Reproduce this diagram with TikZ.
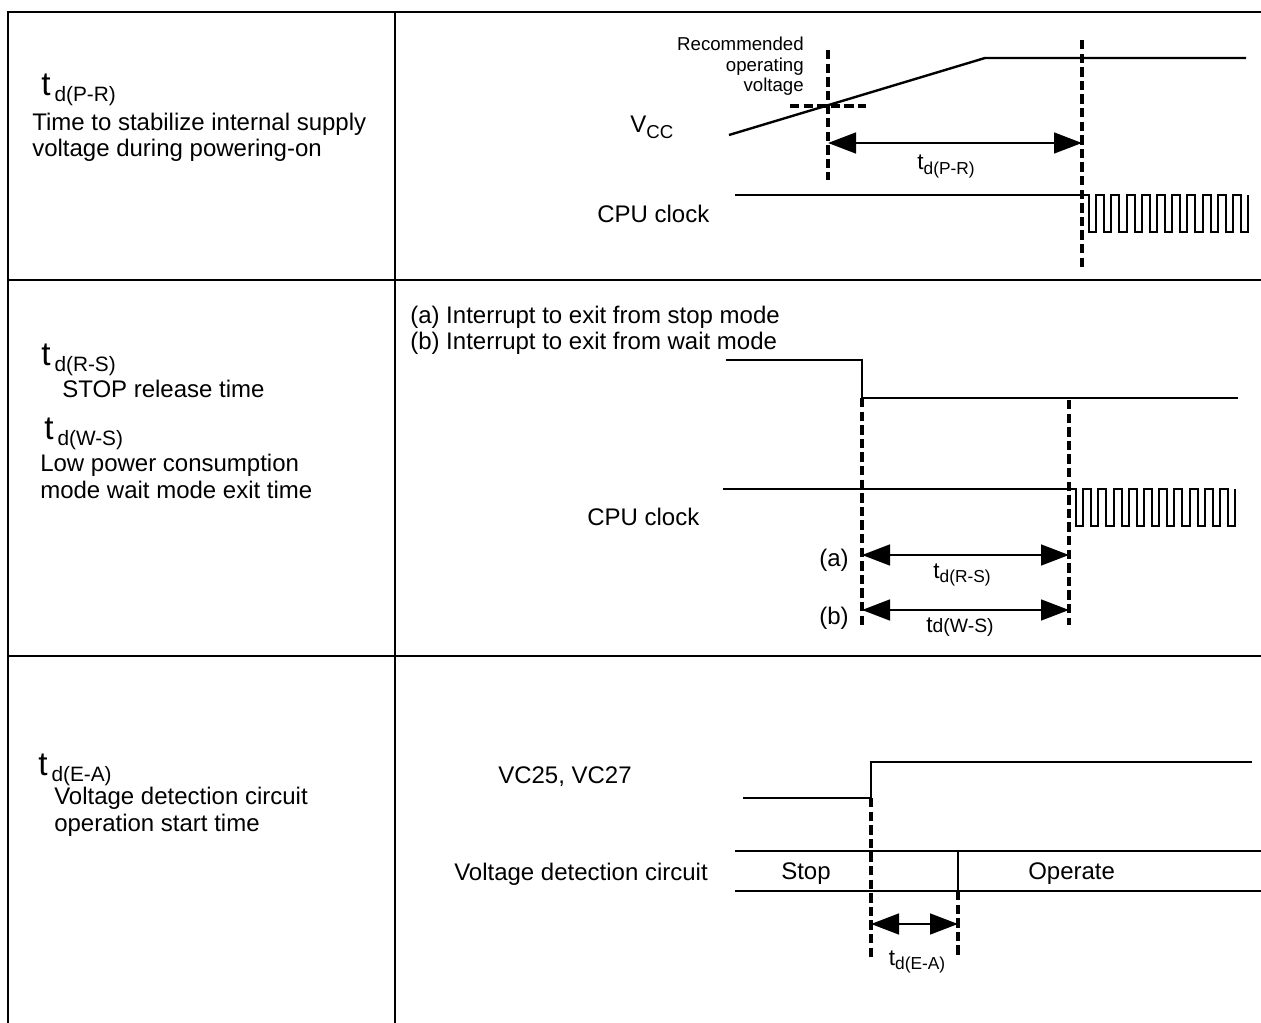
\documentclass[tikz,border=0pt]{standalone}
\usepackage{fontspec}
\setmainfont{Liberation Sans}
\usetikzlibrary{arrows.meta}
\tikzset{
	tablerule/.style={line width=1.8pt},
	sigline/.style={line width=1.8pt},
	clkline/.style={line width=1.6pt,line join=miter},
	dashline/.style={line width=2.5pt,dash pattern=on 7pt off 3.2pt},
	dimarrow/.style={line width=2pt,{Triangle[length=21pt,width=15.5pt]}-{Triangle[length=21pt,width=15.5pt]}},
	txt/.style={anchor=base west,inner sep=0pt,font=\fontsize{18}{22}\selectfont},
	mark txt/.style={anchor=base,inner sep=0pt,font=\fontsize{17}{20}\selectfont},
	small txt/.style={anchor=base east,inner sep=0pt,align=right,font=\fontsize{14}{15.4}\selectfont}
}
% big t with its index, left column
\newcommand{\bigsym}[1]{{\fontsize{25}{25}\selectfont t}\hspace{3pt}\raisebox{-4.5pt}{\fontsize{15.6}{16}\selectfont #1}}
% t with its index, at the arrows
\newcommand{\marksym}[1]{t\raisebox{-3.5pt}{\fontsize{13}{13}\selectfont #1}}
% one pulse train, 11 periods
\newcommand{\clockwave}[3]{
	\draw[clkline] (#1,#2) -- ++(7,0)
		\foreach \n in {1,...,11} { -- ++(0,#3-#2) -- ++(7.2,0) -- ++(0,#2-#3) \ifnum\n<11 -- ++(8,0)\fi };
}
\begin{document}
\begin{tikzpicture}[x=0.75pt,y=-0.75pt]
	\useasboundingbox (0,0) rectangle (1261,1023);
	% table
	\draw[tablerule] (1261,12) -- (8,12) -- (8,1023);
	\draw[tablerule] (395,12) -- (395,1023);
	\draw[tablerule] (8,280) -- (1261,280);
	\draw[tablerule] (8,656) -- (1261,656);

	% left column
	\node[txt] (symPR) at (41,96) {\bigsym{d(P-R)}};
	\node[txt] (descPRa) at (32,131) {Time to stabilize internal supply};
	\node[txt] (descPRb) at (32,157) {voltage during powering-on};
	\node[txt] (symRS) at (41,366) {\bigsym{d(R-S)}};
	\node[txt] (descRS) at (62,398) {STOP release time};
	\node[txt] (symWS) at (44,440) {\bigsym{d(W-S)}};
	\node[txt] (descWSa) at (40,472) {Low power consumption};
	\node[txt] (descWSb) at (40,499) {mode wait mode exit time};
	\node[txt] (symEA) at (38,775) {\bigsym{d(E-A)}};
	\node[txt] (descEAa) at (54,804) {Voltage detection circuit};
	\node[txt] (descEAb) at (54,831) {operation start time};

	% first row
	\node[small txt] (recom) at (804,92) {Recommended\\operating\\voltage};
	\node[txt] (vcc) at (630,133) {V\raisebox{-4pt}{\fontsize{14}{15}\selectfont CC}};
	\node[txt] (clkA) at (597,223) {CPU clock};
	\draw[sigline] (729,135) -- (985,58) -- (1246,58);
	\draw[dashline] (828,50) -- (828,180);
	\draw[dashline] (790,106) -- (866,106);
	\draw[dashline] (1082,40) -- (1082,268);
	\coordinate (prL) at (828,143);
	\coordinate (prR) at (1082,143);
	\draw[dimarrow] (prL) -- (prR);
	\node[mark txt] (markPR) at (946,170) {\marksym{d(P-R)}};
	\draw[sigline] (735,195) -- (1082,195);
	\clockwave{1082}{195}{232}

	% second row
	\node[txt] (noteA) at (410,324) {(a) Interrupt to exit from stop mode};
	\node[txt] (noteB) at (410,350) {(b) Interrupt to exit from wait mode};
	\draw[sigline] (726,360) -- (862,360) -- (862,398) -- (1238,398);
	\draw[dashline] (862,398) -- (862,628);
	\draw[dashline] (1069,400) -- (1069,625);
	\node[txt] (clkB) at (587,526) {CPU clock};
	\draw[sigline] (723,489) -- (1069,489);
	\clockwave{1069}{489}{526}
	\node[txt] (caseA) at (819,566) {(a)};
	\node[txt] (caseB) at (819,624) {(b)};
	\coordinate (rsL) at (862,555);
	\coordinate (rsR) at (1069,555);
	\coordinate (wsL) at (862,610);
	\coordinate (wsR) at (1069,610);
	\draw[dimarrow] (rsL) -- (rsR);
	\draw[dimarrow] (wsL) -- (wsR);
	\node[mark txt] (markRS) at (962,578) {\marksym{d(R-S)}};
	\node[mark txt] (markWS) at (960,633) {t{\fontsize{14.5}{15}\selectfont d(W-S)}};

	% third row
	\node[txt] (vc) at (498,783) {VC25, VC27};
	\node[txt] (vdc) at (454,880) {Voltage detection circuit};
	\draw[sigline] (743,798) -- (871,798) -- (871,762) -- (1252,762);
	\draw[dashline] (871,798) -- (871,960);
	\draw[sigline] (735,851) -- (1261,851);
	\draw[sigline] (735,891) -- (1261,891);
	\draw[sigline] (958,851) -- (958,891);
	\draw[dashline] (958,891) -- (958,955);
	\node[txt] (stop) at (781,879) {Stop};
	\node[txt] (operate) at (1028,879) {Operate};
	\coordinate (eaL) at (871,924);
	\coordinate (eaR) at (958,924);
	\draw[dimarrow] (eaL) -- (eaR);
	\node[mark txt] (markEA) at (917,965) {\marksym{d(E-A)}};
\end{tikzpicture}
\end{document}
